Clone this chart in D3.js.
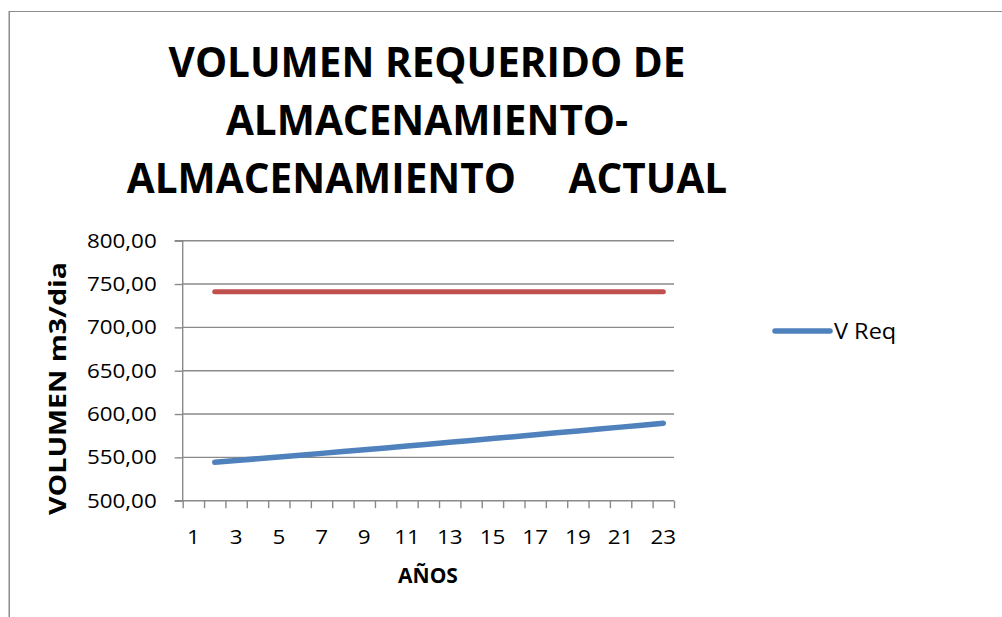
<!DOCTYPE html>
<html>
<head>
<meta charset="utf-8">
<script src="https://cdn.jsdelivr.net/npm/d3@7"></script>
<style>
  body { margin: 0; background: #fff; }
  svg { display: block; font-family: "Open Sans", "Noto Sans", sans-serif; }
</style>
</head>
<body>
<svg id="chart"></svg>
<script>
const width = 1002, height = 617;

// data
const years = d3.range(1, 24);
const tickYears = [1, 3, 5, 7, 9, 11, 13, 15, 17, 19, 21, 23];
const vReqYears = d3.range(2, 24);
const vReq = [544.3, 546.3, 548.4, 550.5, 552.5, 554.6, 556.7, 558.8, 560.9, 563.1, 565.2,
              567.4, 569.5, 571.7, 573.9, 576.0, 578.3, 580.5, 582.7, 584.9, 587.1, 589.3];
const vActual = vReqYears.map(() => 741.2);
const yTicks = [500, 550, 600, 650, 700, 750, 800];
const titleLines = ["VOLUMEN REQUERIDO DE", "ALMACENAMIENTO-", "ALMACENAMIENTO     ACTUAL"];

const plot = { left: 182.7, right: 674, top: 240.7, bottom: 500.7 };
const sx = 1.12; // the labels in the original look stretched sideways

const blue = "#4f81bd", red = "#c0504d", grid = "#8a8a8a";

const svg = d3.select("#chart").attr("width", width).attr("height", height);

// outer chart border (only left and top visible)
svg.append("rect")
    .attr("x", 9).attr("y", 11.5)
    .attr("width", 1100).attr("height", 700)
    .attr("fill", "none").attr("stroke", "#8c8c8c").attr("stroke-width", 1);
svg.append("line")
    .attr("x1", 9.5).attr("x2", 9.5).attr("y1", 11.5).attr("y2", height)
    .attr("stroke", "#8c8c8c").attr("stroke-width", 1);

const x = d3.scaleBand().domain(years).range([plot.left, plot.right]).padding(0);
const xEdge = d3.scaleLinear().domain([0.5, 23.5]).range([plot.left, plot.right]);
const y = d3.scaleLinear().domain([500, 800]).range([plot.bottom, plot.top]);
const cx = d => x(d) + x.bandwidth() / 2;

// gridlines
svg.append("g")
    .selectAll("line")
    .data(yTicks.slice(1))
    .join("line")
    .attr("x1", plot.left).attr("x2", plot.right)
    .attr("y1", d => y(d)).attr("y2", d => y(d))
    .attr("stroke", grid).attr("stroke-width", 1.4);

// y axis
const yAxis = svg.append("g")
    .attr("transform", `translate(${plot.left},0)`)
    .call(d3.axisLeft(y).tickValues(yTicks).tickSize(8).tickPadding(0)
        .tickFormat(d => d3.format(".2f")(d).replace(".", ",")));
yAxis.selectAll("line, path").attr("stroke", grid).attr("stroke-width", 1.4);
yAxis.select(".domain").attr("d", `M-8,${y(500)}H0V${y(800)}H-8`);
yAxis.selectAll("text")
    .attr("font-size", 20).attr("fill", "#000")
    .attr("font-family", "Open Sans")
    .attr("x", -26 / sx)
    .attr("transform", `scale(${sx},1)`);

// x axis tick marks at category edges
const xTicks = svg.append("g")
    .attr("transform", `translate(0,${plot.bottom})`)
    .call(d3.axisBottom(xEdge).tickValues(d3.range(0.5, 24, 1)).tickSize(7.5).tickFormat(""));
xTicks.selectAll("line, path").attr("stroke", grid).attr("stroke-width", 1.4);
xTicks.select(".domain").attr("d", `M${plot.left},0H${plot.right}`);

// x axis labels
const xLabels = svg.append("g")
    .attr("transform", `translate(0,${plot.bottom})`)
    .call(d3.axisBottom(x).tickValues(tickYears).tickSize(0).tickPadding(29));
xLabels.select(".domain").remove();
xLabels.selectAll("text")
    .attr("font-size", 20).attr("fill", "#000")
    .attr("font-family", "Open Sans")
    .attr("transform", `scale(${sx},1)`)
    .attr("x", 0);

// lines
const line = d3.line().x((d, i) => cx(vReqYears[i])).y(d => y(d));

svg.append("path")
    .datum(vActual)
    .attr("d", line)
    .attr("fill", "none").attr("stroke", red)
    .attr("stroke-width", 5).attr("stroke-linecap", "round");

svg.append("path")
    .datum(vReq)
    .attr("d", line)
    .attr("fill", "none").attr("stroke", blue)
    .attr("stroke-width", 5.5).attr("stroke-linecap", "round").attr("stroke-linejoin", "round");

// title
svg.append("g")
    .selectAll("text")
    .data(titleLines)
    .join("text")
    .attr("x", 427)
    .attr("y", (d, i) => 77 + i * 58)
    .attr("text-anchor", "middle")
    .attr("font-size", 40.5).attr("font-weight", "bold")
    .style("white-space", "pre")
    .text(d => d);

// axis titles
svg.append("text")
    .attr("x", 428).attr("y", 583)
    .attr("text-anchor", "middle")
    .attr("font-size", 21).attr("font-weight", "bold")
    .text("AÑOS");

svg.append("text")
    .attr("transform", "translate(66,388.5) rotate(-90)")
    .attr("text-anchor", "middle")
    .attr("font-size", 24).attr("font-weight", "bold")
    .attr("textLength", 253).attr("lengthAdjust", "spacingAndGlyphs")
    .text("VOLUMEN m3/dia");

// legend
const legend = svg.append("g").attr("transform", "translate(775,331)");
legend.append("line")
    .attr("x1", 0).attr("x2", 55)
    .attr("stroke", blue).attr("stroke-width", 5.5).attr("stroke-linecap", "round");
legend.append("text")
    .attr("transform", `translate(59,7.5) scale(${sx},1)`)
    .attr("font-size", 21)
    .text("V Req");
</script>
</body>
</html>
